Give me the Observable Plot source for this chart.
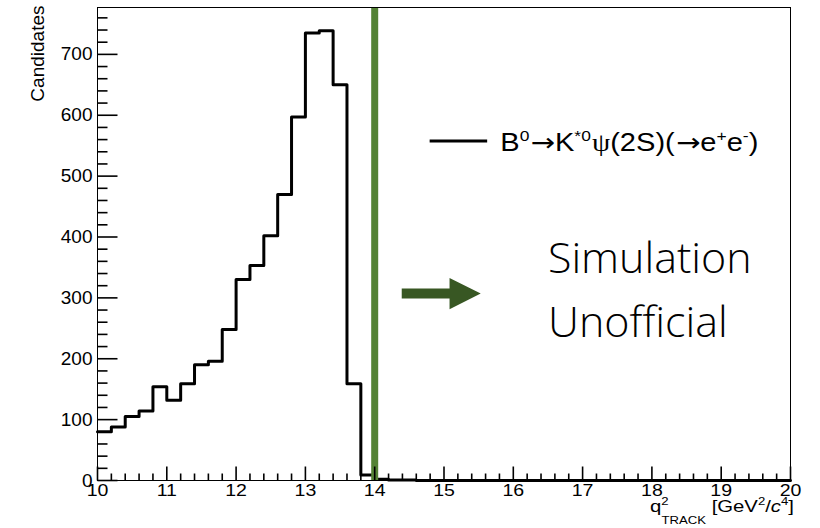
<!DOCTYPE html>
<html>
<head>
<meta charset="utf-8">
<script src="https://cdn.jsdelivr.net/npm/d3@7"></script>
<script src="https://cdn.jsdelivr.net/npm/@observablehq/plot@0.6"></script>
<style>
  body { margin: 0; background: #ffffff; }
  #chart svg { display: block; }
</style>
</head>
<body>
<div id="chart"></div>
<script>
// ---- data ----
const binLowEdges = [
  10.0, 10.2, 10.4, 10.6, 10.8, 11.0, 11.2, 11.4, 11.6, 11.8,
  12.0, 12.2, 12.4, 12.6, 12.8, 13.0, 13.2, 13.4, 13.6, 13.8,
  14.0, 14.2, 14.4, 14.6, 14.8, 15.0, 15.2, 15.4, 15.6, 15.8,
  16.0, 16.2, 16.4, 16.6, 16.8, 17.0, 17.2, 17.4, 17.6, 17.8,
  18.0, 18.2, 18.4, 18.6, 18.8, 19.0, 19.2, 19.4, 19.6, 19.8
];
const binUpperEdge = 20;
const candidates = [
  80, 88, 105, 114, 154, 132, 159, 190, 196, 248,
  330, 353, 402, 470, 597, 735, 739, 650, 159, 9,
  2, 1, 1, 0, 0, 0, 0, 0, 0, 0,
  0, 0, 0, 0, 0, 0, 0, 0, 0, 0,
  0, 0, 0, 0, 0, 0, 0, 0, 0, 0
];
const xMajorTicks = [10, 11, 12, 13, 14, 15, 16, 17, 18, 19, 20];
const yMajorTicks = [0, 100, 200, 300, 400, 500, 600, 700];
const cutValue = 14;
const watermarkLines = ["Simulation", "Unofficial"];
const legendLabel = [
  {t: "B"}, {t: "0", sup: true}, {t: "\u2192", arrow: true}, {t: "K"}, {t: "*0", sup: true},
  {t: "\u03C8", greek: true}, {t: "(2S)("}, {t: "\u2192", arrow: true}, {t: "e"},
  {t: "+", sup: true}, {t: "e"}, {t: "-", sup: true}, {t: ")"}
];
const xTitlePieces = [
  {t: "q"}, {t: "2", sup: true},
  {t: "TRACK", sub: true},
  {t: " [GeV"}, {t: "2", sup: true},
  {t: "/"}, {t: "c", italic: true}, {t: "4", sup: true}, {t: "]"}
];

// ---- layout ----
const W = 820, H = 528, mL = 97, mR = 30, mT = 7, mB = 48;
const xDomain = [10, 20], yDomain = [0, 777];
const pxPerX = (W - mL - mR) / (xDomain[1] - xDomain[0]);
const pxPerY = (H - mT - mB) / (yDomain[1] - yDomain[0]);

// ---- derived tables ----
const xMinorTicks = d3.range(0, 51).map(i => +(10 + i * 0.2).toFixed(1)).filter(v => !Number.isInteger(v));
const yMinorTicks = d3.range(0, 780, 20).filter(v => v % 100 !== 0);
const steps = binLowEdges.map((x, i) => ({x, count: candidates[i]}))
  .concat([{x: binUpperEdge, count: candidates[candidates.length - 1]}]);
// tick segments inside the frame (lengths in pixels, converted to data units)
const tickSegments = [
  ...yMajorTicks.map(v => ({x1: xDomain[0], x2: xDomain[0] + 20 / pxPerX, y1: v, y2: v})),
  ...yMinorTicks.map(v => ({x1: xDomain[0], x2: xDomain[0] + 10 / pxPerX, y1: v, y2: v})),
  ...xMajorTicks.map(v => ({x1: v, x2: v, y1: yDomain[0], y2: yDomain[0] + 14 / pxPerY})),
  ...xMinorTicks.map(v => ({x1: v, x2: v, y1: yDomain[0], y2: yDomain[0] + 7 / pxPerY}))
];

// annotation placement (data units)
const arrowSpec = {x0: 14.39, xHead: 15.08, xTip: 15.53, y: 307, shaftHalf: 8.2, headHalf: 25.5};
const arrowPolygon = [
  {x: arrowSpec.x0, y: arrowSpec.y - arrowSpec.shaftHalf},
  {x: arrowSpec.xHead, y: arrowSpec.y - arrowSpec.shaftHalf},
  {x: arrowSpec.xHead, y: arrowSpec.y - arrowSpec.headHalf},
  {x: arrowSpec.xTip, y: arrowSpec.y},
  {x: arrowSpec.xHead, y: arrowSpec.y + arrowSpec.headHalf},
  {x: arrowSpec.xHead, y: arrowSpec.y + arrowSpec.shaftHalf},
  {x: arrowSpec.x0, y: arrowSpec.y + arrowSpec.shaftHalf},
  {x: arrowSpec.x0, y: arrowSpec.y - arrowSpec.shaftHalf}
];
const watermark = [
  {text: watermarkLines[0], x: 16.50, y: 341},
  {text: watermarkLines[1], x: 16.50, y: 236}
];

const plot = Plot.plot({
  width: W, height: H,
  marginLeft: mL, marginRight: mR, marginTop: mT, marginBottom: mB,
  x: {domain: xDomain, label: null},
  y: {domain: yDomain, label: null},
  style: {fontFamily: "'Liberation Sans', Arial, sans-serif", background: "#ffffff", color: "#000000", overflow: "visible"},
  marks: [
    Plot.line(steps, {x: "x", y: "count", curve: "step-after", stroke: "#000000", strokeWidth: 3}),
    Plot.ruleX([cutValue], {stroke: "#548235", strokeWidth: 7}),
    Plot.line(arrowPolygon, {x: "x", y: "y", fill: "#385723", stroke: "none"}),
    Plot.text(watermark, {x: "x", y: "y", text: "text", textAnchor: "start", lineAnchor: "bottom",
      fontFamily: "'Open Sans', sans-serif", fontWeight: 300, fontSize: 43, fill: "#000000"}),
    Plot.frame({stroke: "#000000", strokeWidth: 1}),
    Plot.axisY({ticks: yMajorTicks, tickSize: 0, tickPadding: 5, fontSize: 19, label: null}),
    Plot.axisX({ticks: xMajorTicks, tickSize: 0, tickPadding: 3, fontSize: 17, label: null}),
    Plot.text(["Candidates"], {frameAnchor: "top-left", text: d => d, rotate: -90, textAnchor: "end",
      lineAnchor: "bottom", dx: -54, dy: -2, fontSize: 19}),
    Plot.link(tickSegments, {x1: "x1", y1: "y1", x2: "x2", y2: "y2", stroke: "#000000", strokeWidth: 1.6})
  ]
});

document.getElementById("chart").appendChild(plot);

const sx = plot.scale("x"), sy = plot.scale("y");
const svg = d3.select(plot);

// widen the x tick labels slightly, as in the reference
svg.selectAll('g[aria-label="x-axis tick label"] text').each(function () {
  const tr = this.getAttribute("transform") || "";
  this.setAttribute("transform", tr + " scale(1.15,1)");
});

// legend sample line
svg.append("line")
  .attr("x1", sx.apply(14.80)).attr("x2", sx.apply(15.63))
  .attr("y1", sy.apply(557)).attr("y2", sy.apply(557))
  .attr("stroke", "#000000").attr("stroke-width", 3);

function richText(x, y, pieces, opt) {
  const t = svg.append("text")
    .attr("x", x).attr("y", y)
    .attr("text-anchor", opt.anchor)
    .attr("font-family", "'Liberation Sans', Arial, sans-serif")
    .attr("font-size", opt.size)
    .attr("fill", "#000000");
  let shift = 0;
  for (const p of pieces) {
    const target = p.sup ? -opt.raise : p.sub ? opt.lower : 0;
    const ts = t.append("tspan").text(p.t).attr("dy", target - shift);
    if (p.sup) ts.attr("font-size", opt.supSize);
    if (p.sub) { ts.attr("font-size", opt.subSize); ts.attr("dx", -opt.subBack); }
    if (p.italic) ts.attr("font-style", "italic");
    if (p.arrow) ts.attr("font-family", "'DejaVu Sans', sans-serif").attr("dx", 1);
    if (p.greek) ts.attr("font-family", "'Liberation Serif', serif").attr("dx", 1);
    shift = target;
  }
  t.attr("textLength", opt.length).attr("lengthAdjust", "spacingAndGlyphs");
  return t;
}

richText(sx.apply(15.82), sy.apply(540), legendLabel,
  {anchor: "start", size: 25, supSize: 15, raise: 10, lower: 0, length: 258});
richText(794, 512, xTitlePieces,
  {anchor: "end", size: 17, supSize: 11, subSize: 11, raise: 7, lower: 12, subBack: 6, length: 144});
</script>
</body>
</html>
